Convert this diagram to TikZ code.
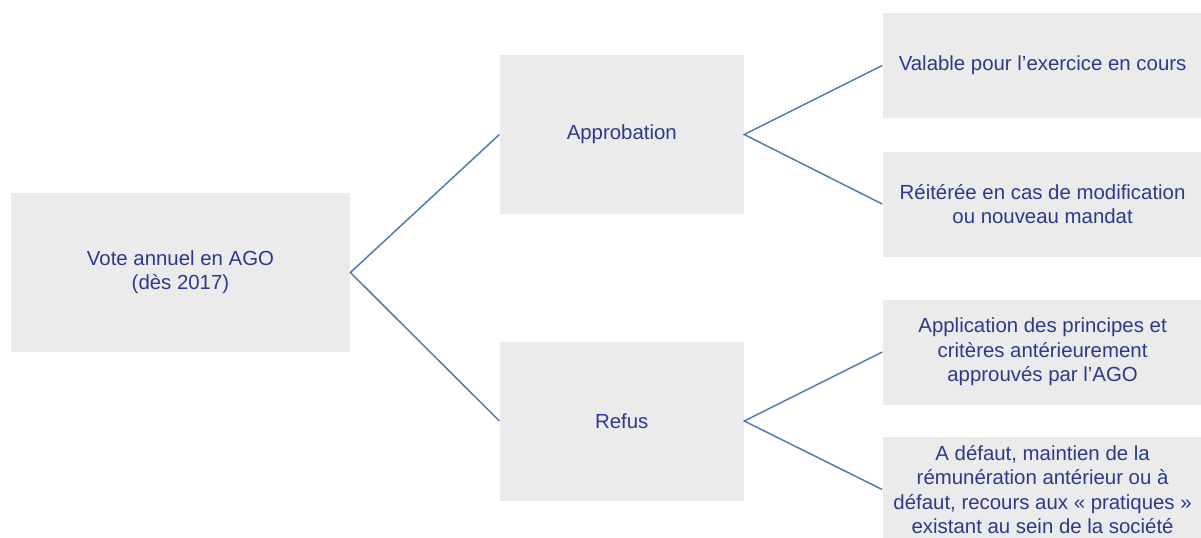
\documentclass[tikz,border=0pt]{standalone}
\usepackage{fontspec}
\setmainfont{Liberation Sans}
\usetikzlibrary{positioning}

\definecolor{boxgray}{RGB}{235,235,235}
\definecolor{inkblue}{RGB}{44,58,138}
\definecolor{linkblue}{RGB}{79,124,178}

\begin{document}
\begin{tikzpicture}[
  x=1pt,y=1pt,
  font=\fontsize{10.2}{12.2}\selectfont,
  text=inkblue,
  root/.style={fill=boxgray,align=center,minimum width=169.5pt,
    minimum height=79.5pt,inner sep=0pt},
  choice/.style={fill=boxgray,align=center,minimum width=122pt,
    minimum height=79.5pt,inner sep=0pt},
  effect/.style={fill=boxgray,align=center,minimum width=160pt,
    minimum height=52.5pt,inner sep=0pt},
  link/.style={draw=linkblue,line width=0.75pt}
]
\useasboundingbox (0,0) rectangle (600.5,-268.5);

\node[root] (vote) at (90.25,-136.25) {Vote annuel en AGO\\(dès 2017)};
\node[choice,right=74.5pt of vote,yshift=69pt] (appro) {Approbation};
\node[choice,right=74.5pt of vote,yshift=-74.25pt] (refus) {Refus};

\node[effect,right=69pt of appro,yshift=34.5pt] (valable)
{Valable pour l’exercice en cours};
\node[effect,right=69pt of appro,yshift=-34.75pt] (reiteree)
{Réitérée en cas de modification\\ou nouveau mandat};
\node[effect,right=69pt of refus,yshift=34.5pt] (principes)
{Application des principes et\\critères antérieurement\\approuvés par l’AGO};
\node[effect,right=69pt of refus,yshift=-34.25pt] (defaut)
{A défaut, maintien de la\\rémunération antérieur ou à\\défaut, recours aux « pratiques »\\existant au sein de la société};

\draw[link] (appro.west) -- (vote.east) -- (refus.west);
\draw[link] (valable.west) -- (appro.east) -- (reiteree.west);
\draw[link] (principes.west) -- (refus.east) -- (defaut.west);
\end{tikzpicture}
\end{document}
